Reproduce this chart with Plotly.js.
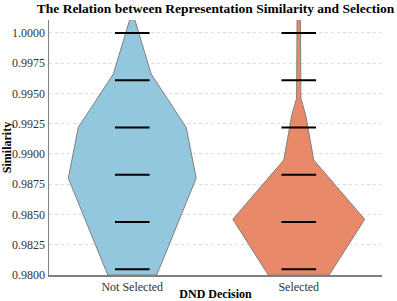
<!DOCTYPE html>
<html>
<head>
<meta charset="utf-8">
<script src="https://cdn.plot.ly/plotly-3.0.1.min.js"></script>
<style>html,body{margin:0;padding:0;background:#fff;}</style>
</head>
<body>
<div id="chart" style="width:397px;height:301px;"></div>
<script>
// Categories
const categories = ["Not Selected", "Selected"];
// Observed similarity values (drawn as sticks)
const notSelectedValues = [0.98047, 0.98438, 0.98828, 0.99219, 0.99609, 1.00000];
const selectedValues = [0.98047, 0.98438, 0.98828, 0.99219, 0.99609, 1.00000];
// Violin density outlines (similarity levels and half-widths, in category units)
const notSelectedDensityY = [0.9800, 0.9880, 0.9922, 0.9966, 1.0011];
const notSelectedDensityW = [0.147, 0.384, 0.324, 0.114, 0.015];
const selectedDensityY = [0.9800, 0.9846, 0.9895, 0.9932, 0.9946, 1.0011];
const selectedDensityW = [0.183, 0.396, 0.090, 0.042, 0.013, 0.010];
// Y tick labels
const yTickVals = [0.9800, 0.9825, 0.9850, 0.9875, 0.9900, 0.9925, 0.9950, 0.9975, 1.0000];
const yTickText = ["0.9800", "0.9825", "0.9850", "0.9875", "0.9900", "0.9925", "0.9950", "0.9975", "1.0000"];

const fillColors = ["rgb(147,199,221)", "rgb(232,138,106)"];
const stickHalf = 0.104;

function violinTrace(center, ys, ws, color) {
  const x = [], y = [];
  for (let i = 0; i < ys.length; i++) { x.push(center + ws[i]); y.push(ys[i]); }
  for (let i = ys.length - 1; i >= 0; i--) { x.push(center - ws[i]); y.push(ys[i]); }
  x.push(x[0]); y.push(y[0]);
  return {
    type: "scatter", mode: "lines", x: x, y: y, fill: "toself",
    fillcolor: color, line: {color: "rgb(128,128,128)", width: 1},
    hoverinfo: "skip", showlegend: false
  };
}
function stickTrace(center, vals) {
  const x = [], y = [];
  vals.forEach(v => { x.push(center - stickHalf, center + stickHalf, null); y.push(v, v, null); });
  return {
    type: "scatter", mode: "lines", x: x, y: y,
    line: {color: "black", width: 2}, hoverinfo: "skip", showlegend: false
  };
}

const traces = [
  violinTrace(0, notSelectedDensityY, notSelectedDensityW, fillColors[0]),
  violinTrace(1, selectedDensityY, selectedDensityW, fillColors[1]),
  stickTrace(0, notSelectedValues),
  stickTrace(1, selectedValues)
];

const serif = "Liberation Serif, Times New Roman, serif";
const layout = {
  width: 397, height: 301,
  margin: {l: 49, r: 15, t: 20, b: 26},
  paper_bgcolor: "white", plot_bgcolor: "white",
  font: {family: serif, size: 12, color: "#222"},
  title: {text: "<b>The Relation between Representation Similarity and Selection</b>",
          font: {family: serif, size: 13.5, color: "black"},
          x: 0.5, xref: "paper", xanchor: "center", y: 0.972, yanchor: "middle"},
  xaxis: {
    range: [-0.5, 1.5], tickvals: [0, 1], ticktext: categories,
    showgrid: true, gridcolor: "#dcdcdc", griddash: "dot", gridwidth: 1,
    showline: true, linecolor: "#808080", linewidth: 1.5,
    ticks: "", zeroline: false, tickfont: {family: serif, size: 12, color: "#333"},
    title: {text: "<b>DND Decision</b>", font: {family: serif, size: 12, color: "black"}, standoff: 4}
  },
  yaxis: {
    range: [0.98, 1.00107], tickvals: yTickVals, ticktext: yTickText,
    showgrid: true, gridcolor: "#dcdcdc", griddash: "dot", gridwidth: 1,
    showline: true, linecolor: "#808080", linewidth: 1.5,
    ticks: "", zeroline: false, tickfont: {family: serif, size: 12, color: "#333"},
    title: {text: "<b>Similarity</b>", font: {family: serif, size: 12, color: "black"}, standoff: 4}
  }
};

Plotly.newPlot("chart", traces, layout, {displayModeBar: false, staticPlot: true});
</script>
</body>
</html>
